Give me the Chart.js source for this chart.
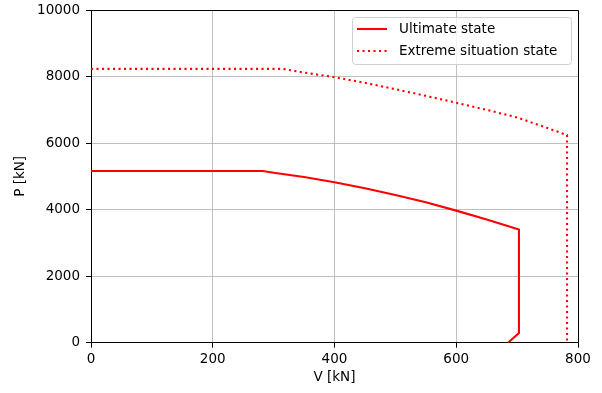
<!DOCTYPE html>
<html>
<head>
<meta charset="utf-8">
<script src="https://cdn.jsdelivr.net/npm/chart.js@4.4.0/dist/chart.umd.min.js"></script>
<style>
  html, body { margin: 0; padding: 0; background: #fff; }
  canvas { display: block; }
</style>
</head>
<body>
<canvas id="c" width="602" height="393"></canvas>
<script>
// ---- data ----
const ultimateV = [0, 282, 300, 350, 400, 450, 500, 550, 600, 650, 703, 703, 685];
const ultimateP = [5160, 5160, 5110, 4980, 4820, 4640, 4440, 4220, 3970, 3700, 3400, 290, 0];
const extremeV  = [0, 315, 350, 400, 450, 500, 550, 600, 650, 700, 750, 782, 782];
const extremeP  = [8230, 8230, 8120, 7980, 7810, 7620, 7420, 7210, 7000, 6770, 6450, 6240, 0];
const seriesNames = ['Ultimate state', 'Extreme situation state'];
const xTicks = [0, 200, 400, 600, 800];
const yTicks = [0, 2000, 4000, 6000, 8000, 10000];

const FONT = 'DejaVu Sans';
const FS = 13.5;

function pts(xs, ys) { return xs.map((x, i) => ({ x: x, y: ys[i] })); }

const framePlugin = {
  id: 'frameAndLegend',
  afterDraw(chart) {
    const ctx = chart.ctx;
    const a = chart.chartArea;
    ctx.save();
    // spines (top and right; left/bottom drawn by axis borders)
    ctx.strokeStyle = '#000';
    ctx.lineWidth = 1;
    ctx.beginPath();
    ctx.moveTo(a.left, Math.round(a.top) + 0.5);
    ctx.lineTo(Math.round(a.right) + 0.5, Math.round(a.top) + 0.5);
    ctx.lineTo(Math.round(a.right) + 0.5, a.bottom);
    ctx.stroke();
    // legend box
    const bx = 352.5, by = 17.5, bw = 219, bh = 47, r = 3;
    ctx.beginPath();
    ctx.moveTo(bx + r, by);
    ctx.lineTo(bx + bw - r, by);
    ctx.arcTo(bx + bw, by, bx + bw, by + r, r);
    ctx.lineTo(bx + bw, by + bh - r);
    ctx.arcTo(bx + bw, by + bh, bx + bw - r, by + bh, r);
    ctx.lineTo(bx + r, by + bh);
    ctx.arcTo(bx, by + bh, bx, by + bh - r, r);
    ctx.lineTo(bx, by + r);
    ctx.arcTo(bx, by, bx + r, by, r);
    ctx.closePath();
    ctx.fillStyle = 'rgba(255,255,255,0.8)';
    ctx.fill();
    ctx.strokeStyle = '#d0d0d0';
    ctx.lineWidth = 1;
    ctx.stroke();
    // entries
    const rows = [29, 51];
    chart.data.datasets.forEach((ds, i) => {
      const y = rows[i];
      ctx.beginPath();
      ctx.strokeStyle = ds.borderColor;
      ctx.lineWidth = ds.borderWidth;
      ctx.setLineDash(ds.borderDash || []);
      ctx.moveTo(357, y);
      ctx.lineTo(387, y);
      ctx.stroke();
      ctx.setLineDash([]);
      ctx.fillStyle = '#000';
      ctx.font = FS + 'px "' + FONT + '"';
      ctx.textBaseline = 'middle';
      ctx.textAlign = 'left';
      ctx.fillText(ds.label, 399, y + 0.5);
    });
    ctx.restore();
  }
};

new Chart(document.getElementById('c'), {
  type: 'line',
  data: {
    datasets: [
      {
        label: seriesNames[0],
        data: pts(ultimateV, ultimateP),
        borderColor: '#ff0000',
        borderWidth: 2.1,
        pointRadius: 0,
        fill: false,
        tension: 0
      },
      {
        label: seriesNames[1],
        data: pts(extremeV, extremeP),
        borderColor: '#ff0000',
        borderWidth: 2.1,
        borderDash: [2.1, 3.4],
        borderCapStyle: 'butt',
        pointRadius: 0,
        fill: false,
        tension: 0
      }
    ]
  },
  options: {
    responsive: false,
    animation: false,
    events: [],
    layout: { padding: { top: 10, right: 24, left: 0, bottom: 0 } },
    plugins: { legend: { display: false }, tooltip: { enabled: false } },
    scales: {
      x: {
        type: 'linear',
        min: 0, max: 800,
        afterBuildTicks(scale) { scale.ticks = xTicks.map(v => ({ value: v })); },
        afterFit(scale) { scale.height = 50.3; scale.paddingLeft = 0; scale.paddingRight = 0; },
        ticks: {
          color: '#000',
          font: { family: FONT, size: FS },
          padding: 4,
          maxRotation: 0,
          callback: v => String(v)
        },
        grid: { color: '#b0b0b0', lineWidth: 0.8, tickColor: '#000', tickLength: 5, tickWidth: 1 },
        border: { display: true, color: '#000', width: 1 },
        title: {
          display: true, text: 'V [kN]', color: '#000',
          font: { family: FONT, size: FS },
          padding: { top: 0, bottom: 7 }
        }
      },
      y: {
        type: 'linear',
        min: 0, max: 10000,
        afterBuildTicks(scale) { scale.ticks = yTicks.map(v => ({ value: v })); },
        afterFit(scale) { scale.width = 91; scale.paddingTop = 0; scale.paddingBottom = 0; },
        ticks: {
          color: '#000',
          font: { family: FONT, size: FS },
          padding: 6,
          callback: v => String(v)
        },
        grid: { color: '#b0b0b0', lineWidth: 0.8, tickColor: '#000', tickLength: 5, tickWidth: 1 },
        border: { display: true, color: '#000', width: 1 },
        title: {
          display: true, text: 'P [kN]', color: '#000',
          font: { family: FONT, size: FS },
          padding: { top: 12, bottom: 0 }
        }
      }
    }
  },
  plugins: [framePlugin]
});
</script>
</body>
</html>
